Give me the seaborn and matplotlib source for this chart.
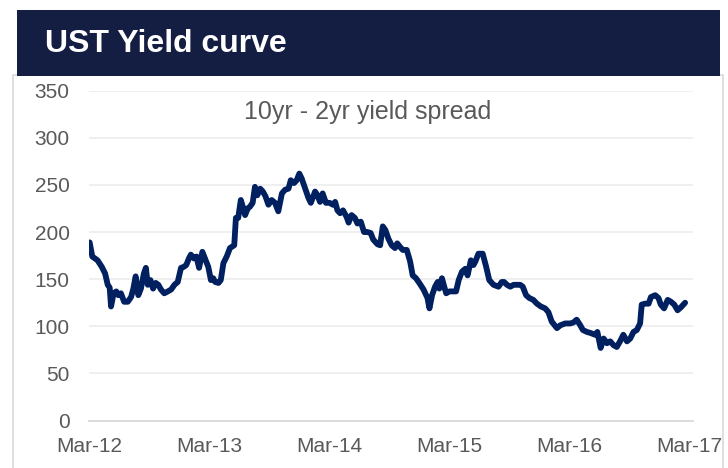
import matplotlib
matplotlib.use("Agg")
import matplotlib.pyplot as plt
from matplotlib.patches import Rectangle
import seaborn as sns
import pandas as pd

# 10yr - 2yr US Treasury yield spread, basis points
dates = [
    "2012-03-03", "2012-03-11", "2012-03-27", "2012-04-09", "2012-04-19", "2012-04-27",
    "2012-05-03", "2012-05-07", "2012-05-15", "2012-05-23", "2012-05-29", "2012-06-06",
    "2012-06-16", "2012-06-27", "2012-07-07", "2012-07-14", "2012-07-21", "2012-07-29",
    "2012-08-06", "2012-08-15", "2012-08-21", "2012-08-27", "2012-09-04", "2012-09-12",
    "2012-09-20", "2012-09-28", "2012-10-06", "2012-10-16", "2012-10-27", "2012-11-06",
    "2012-11-16", "2012-11-26", "2012-12-06", "2012-12-14", "2012-12-22", "2012-12-30",
    "2013-01-05", "2013-01-14", "2013-01-22", "2013-01-30", "2013-02-09", "2013-02-17",
    "2013-02-27", "2013-03-07", "2013-03-14", "2013-03-20", "2013-03-30", "2013-04-06",
    "2013-04-14", "2013-04-24", "2013-05-04", "2013-05-17", "2013-05-22", "2013-05-29",
    "2013-06-06", "2013-06-12", "2013-06-19", "2013-06-27", "2013-07-04", "2013-07-12",
    "2013-07-19", "2013-07-26", "2013-08-04", "2013-08-12", "2013-08-20", "2013-08-29",
    "2013-09-08", "2013-09-18", "2013-09-28", "2013-10-09", "2013-10-19", "2013-10-29",
    "2013-11-05", "2013-11-15", "2013-11-23", "2013-12-01", "2013-12-08", "2013-12-19",
    "2013-12-29", "2014-01-05", "2014-01-18", "2014-01-25", "2014-02-02", "2014-02-10",
    "2014-02-20", "2014-03-03", "2014-03-13", "2014-03-20", "2014-03-27", "2014-04-04",
    "2014-04-13", "2014-04-24", "2014-04-30", "2014-05-09", "2014-05-19", "2014-05-27",
    "2014-06-06", "2014-06-16", "2014-06-26", "2014-07-06", "2014-07-14", "2014-07-27",
    "2014-08-04", "2014-08-12", "2014-08-20", "2014-08-29", "2014-09-08", "2014-09-18",
    "2014-09-25", "2014-10-04", "2014-10-12", "2014-10-24", "2014-11-03", "2014-11-11",
    "2014-11-21", "2014-12-01", "2014-12-14", "2014-12-26", "2015-01-01", "2015-01-09",
    "2015-01-18", "2015-01-26", "2015-01-31", "2015-02-08", "2015-02-15", "2015-02-21",
    "2015-03-03", "2015-03-15", "2015-03-23", "2015-03-31", "2015-04-10", "2015-04-20",
    "2015-04-27", "2015-05-07", "2015-05-15", "2015-05-21", "2015-05-30", "2015-06-12",
    "2015-06-22", "2015-07-02", "2015-07-15", "2015-07-30", "2015-08-09", "2015-08-16",
    "2015-08-25", "2015-09-04", "2015-09-14", "2015-09-24", "2015-10-04", "2015-10-12",
    "2015-10-22", "2015-11-01", "2015-11-13", "2015-11-24", "2015-12-06", "2015-12-19",
    "2015-12-29", "2016-01-08", "2016-01-24", "2016-02-03", "2016-02-18", "2016-03-04",
    "2016-03-14", "2016-03-24", "2016-04-04", "2016-04-12", "2016-04-24", "2016-05-04",
    "2016-05-19", "2016-05-26", "2016-06-05", "2016-06-14", "2016-06-24", "2016-07-04",
    "2016-07-14", "2016-07-24", "2016-08-03", "2016-08-13", "2016-08-24", "2016-09-03",
    "2016-09-13", "2016-09-23", "2016-10-03", "2016-10-08", "2016-10-18", "2016-10-29",
    "2016-11-05", "2016-11-18", "2016-11-28", "2016-12-05", "2016-12-15", "2016-12-26",
    "2017-01-05", "2017-01-15", "2017-01-25", "2017-02-04", "2017-02-17",
]
spread = [
    189, 174, 170, 163, 156, 144,
    141, 121, 135, 137, 133, 135,
    126, 126, 131, 140, 153, 133,
    140, 156, 162, 144, 149, 140,
    146, 144, 139, 135, 137, 139,
    144, 147, 162, 163, 165, 172,
    176, 172, 174, 162, 179, 172,
    163, 149, 151, 147, 146, 149,
    167, 174, 183, 186, 215, 215,
    234, 227, 218, 225, 227, 231,
    248, 239, 246, 243, 238, 229,
    234, 231, 222, 241, 245, 246,
    255, 252, 255, 262, 257, 246,
    236, 231, 243, 239, 232, 241,
    231, 231, 229, 232, 223, 220,
    223, 216, 210, 218, 215, 209,
    211, 200, 200, 199, 192, 187,
    186, 206, 202, 193, 186, 183,
    188, 184, 181, 181, 169, 154,
    151, 146, 139, 130, 119, 133,
    142, 147, 140, 151, 142, 135,
    137, 137, 137, 149, 158, 161,
    154, 170, 165, 169, 177, 177,
    164, 149, 144, 142, 147, 147,
    144, 142, 144, 144, 144, 142,
    133, 130, 128, 124, 121, 119,
    115, 105, 98, 101, 103, 103,
    104, 107, 101, 96, 94, 93,
    91, 94, 77, 87, 82, 84,
    80, 78, 84, 91, 84, 87,
    94, 96, 103, 123, 124, 124,
    131, 133, 130, 123, 119, 128,
    126, 123, 117, 120, 125,
]

tick_dates = ["2012-03-01", "2013-03-01", "2014-03-01", "2015-03-01", "2016-03-01", "2017-03-01"]
tick_labels = ["Mar-12", "Mar-13", "Mar-14", "Mar-15", "Mar-16", "Mar-17"]
y_ticks = [0, 50, 100, 150, 200, 250, 300, 350]

sns.set_style("white")
plt.rcParams["font.family"] = ["Liberation Sans", "DejaVu Sans"]

W, H = 728, 468
fig = plt.figure(figsize=(W / 100, H / 100), dpi=100)

# panel frame and title banner
fig.patches.append(Rectangle((12.5 / W, -0.05), (722.5 - 12.5) / W, (H - 75) / H + 0.05,
                             transform=fig.transFigure, fill=False,
                             edgecolor="#d9d9d9", linewidth=1.2))
fig.patches.append(Rectangle((17 / W, (H - 76) / H), (720 - 17) / W, 66 / H,
                             transform=fig.transFigure, facecolor="#141d42",
                             edgecolor="none"))
fig.text(45 / W, (H - 44) / H, "UST Yield curve", color="white", fontsize=23,
         fontweight="bold", ha="left", va="center")

ax = fig.add_axes([89 / W, (H - 420.5) / H, (693 - 89) / W, (420.5 - 90.7) / H])
df = pd.DataFrame({"date": pd.to_datetime(dates), "spread": spread})
sns.lineplot(data=df, x="date", y="spread", ax=ax, color="#002060",
             linewidth=4.2, solid_joinstyle="round", solid_capstyle="round")

ax.set_ylim(0, 350)
ax.set_yticks(y_ticks)
ax.set_xlim(pd.Timestamp("2012-03-01"), pd.Timestamp("2017-03-13"))
ax.set_xticks(pd.to_datetime(tick_dates))
ax.set_xticklabels(tick_labels)
ax.set_xlabel("")
ax.set_ylabel("")

ax.grid(axis="y", color="#eeeeee", linewidth=1.3)
ax.grid(axis="x", visible=False)
ax.set_axisbelow(True)
for side in ("left", "right", "top"):
    ax.spines[side].set_visible(False)
ax.spines["bottom"].set_color("#d9d9d9")
ax.spines["bottom"].set_linewidth(1.3)

ax.tick_params(axis="x", length=5, width=1.2, color="#d9d9d9", labelsize=15,
               labelcolor="#595959", pad=7)
ax.tick_params(axis="y", length=0, labelsize=15, labelcolor="#595959", pad=14)

ax.text(0.462, 0.935, "10yr - 2yr yield spread", transform=ax.transAxes,
        ha="center", va="center", fontsize=18, color="#595959")

fig.savefig("out.png", dpi=100)
